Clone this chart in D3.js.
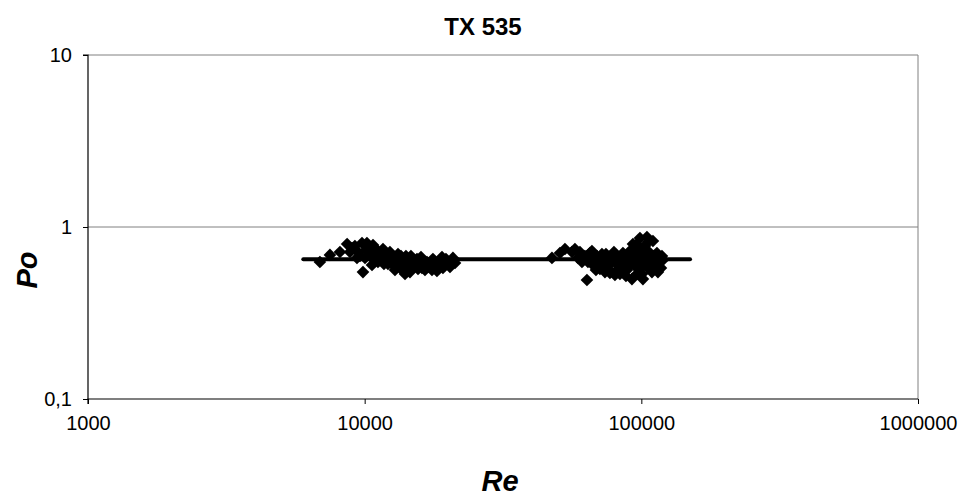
<!DOCTYPE html>
<html><head><meta charset="utf-8">
<script src="https://cdn.jsdelivr.net/npm/d3@7"></script>
<style>body{margin:0;background:#fff}svg{display:block}</style>
</head><body>
<svg id="c" width="960" height="497"></svg>
<script>
const title = "TX 535";
const xLabel = "Re", yLabel = "Po";
const xTicks = [1000, 10000, 100000, 1000000];
const xTickLabels = ["1000", "10000", "100000", "1000000"];
const yTicks = [0.1, 1, 10];
const yTickLabels = ["0,1", "1", "10"];
const fitRe = [6000, 150000];
const fitPo = [0.65, 0.65];
const re = [
  6890, 7490, 8140, 8640, 9000, 9220, 9460, 9780, 9860, 10190,
  10280, 10450, 10630, 10720, 11080, 11170, 11360, 11650, 11840, 12140,
  12340, 12550, 12870, 13200, 13420, 13640, 13990, 14100, 14340, 14580,
  14830, 15200, 15460, 15590, 15850, 16250, 16520, 16800, 17220, 17650,
  17950, 18250, 18720, 19030, 19510, 20000, 20340, 20850, 21210, 9620,
  10030, 10900, 12870, 14580, 16520,
  8850, 9380, 10110, 10805, 11550, 12040, 12660, 13086, 13755, 14220,
  14950, 15330, 16110, 16935, 17510, 18410, 19185, 19670, 20505, 15980,
  14700, 13530, 12450, 11740,
  47530, 50800, 52960, 56140, 57550, 59010, 61010, 63600, 65200, 66300,
  67980, 69700, 70870, 72060, 73880, 75750, 77020, 78970, 80290, 81640,
  83700, 85100, 85820, 87260, 88720, 90960, 92490, 93260, 94820, 95620,
  97210, 98840, 98840, 100500, 102190, 103040, 104770, 105650, 107420, 109220,
  110130, 111980, 113860, 114810, 116740, 117720, 118700, 119690, 68540, 73880, 77020,
  59990, 62540, 64130, 66860, 69120, 72650, 74500, 76380, 78310, 79620,
  82310, 84390, 86530, 87980, 89450, 90200, 91720, 94040, 96410, 96410,
  98020, 99670, 101340, 103900, 105650, 106540, 108310, 111050, 112920, 115770,
  101340, 80290, 73880
];
const po = [
  0.626, 0.688, 0.716, 0.796, 0.755, 0.775, 0.716, 0.807, 0.547, 0.807,
  0.735, 0.678, 0.601, 0.786, 0.735, 0.626, 0.688, 0.745, 0.661, 0.609,
  0.716, 0.661, 0.626, 0.697, 0.578, 0.652, 0.533, 0.678, 0.609, 0.643,
  0.578, 0.626, 0.652, 0.570, 0.609, 0.643, 0.585, 0.626, 0.609, 0.652,
  0.578, 0.555, 0.626, 0.669, 0.601, 0.626, 0.585, 0.661, 0.618, 0.678,
  0.661, 0.661, 0.562, 0.547, 0.562,
  0.716, 0.661, 0.735, 0.716, 0.661, 0.697, 0.601, 0.652, 0.609, 0.562,
  0.626, 0.593, 0.578, 0.585, 0.562, 0.601, 0.578, 0.652, 0.626, 0.669,
  0.678, 0.678, 0.643, 0.609,
  0.661, 0.706, 0.745, 0.716, 0.745, 0.661, 0.626, 0.492, 0.706, 0.725,
  0.661, 0.609, 0.570, 0.697, 0.643, 0.593, 0.669, 0.678, 0.626, 0.562,
  0.533, 0.661, 0.706, 0.601, 0.562, 0.635, 0.498, 0.796, 0.688, 0.585,
  0.735, 0.863, 0.643, 0.533, 0.678, 0.775, 0.875, 0.578, 0.661, 0.547,
  0.829, 0.643, 0.706, 0.547, 0.661, 0.578, 0.678, 0.643, 0.562, 0.547, 0.540,
  0.716, 0.678, 0.626, 0.601, 0.678, 0.618, 0.697, 0.562, 0.626, 0.716,
  0.661, 0.593, 0.643, 0.519, 0.697, 0.593, 0.735, 0.626, 0.796, 0.533,
  0.678, 0.578, 0.735, 0.626, 0.818, 0.716, 0.593, 0.678, 0.578, 0.626,
  0.498, 0.526, 0.578
];
const points = re.map((r, i) => ({re: r, po: po[i]}));

const svg = d3.select("#c");
const L = 88, R = 918, T = 55, B = 399;
const x = d3.scaleLog().domain([1000, 1000000]).range([L, R]);
const y = d3.scaleLog().domain([0.1, 10]).range([B, T]);
const font = "'Liberation Sans', Arial, sans-serif";

// gridlines
svg.append("g").selectAll("line").data(yTicks.filter(v => v > 0.1)).join("line")
  .attr("x1", L).attr("x2", R).attr("y1", d => y(d)).attr("y2", d => y(d))
  .attr("stroke", "#808080").attr("stroke-width", 1);
svg.append("line").attr("x1", R).attr("x2", R).attr("y1", T).attr("y2", B)
  .attr("stroke", "#808080").attr("stroke-width", 1);

// axes
const xAxis = d3.axisBottom(x).tickValues(xTicks).tickFormat((d, i) => xTickLabels[i]).tickSize(5).tickPadding(12);
const yAxis = d3.axisLeft(y).tickValues(yTicks).tickFormat((d, i) => yTickLabels[yTicks.indexOf(d)]).tickSize(5).tickPadding(11);
const gx = svg.append("g").attr("transform", `translate(0,${B})`).call(xAxis);
const gy = svg.append("g").attr("transform", `translate(${L},0)`).call(yAxis);
[gx, gy].forEach(g => {
  g.select(".domain").attr("stroke", "#000").attr("stroke-width", 1.2);
  g.selectAll(".tick line").attr("stroke", "#000");
  g.selectAll(".tick text").attr("font-family", font).attr("font-size", 20).attr("fill", "#000");
});
gy.select(".domain").attr("d", `M-5,${T}H0V${B}`);
gx.select(".domain").attr("d", `M${L},5V0H${R}`);

// points
const sym = d3.symbol().type(d3.symbolSquare).size(80);
svg.append("g").selectAll("path").data(points).join("path")
  .attr("d", sym)
  .attr("transform", d => `translate(${x(d.re)},${y(d.po)}) rotate(45)`)
  .attr("fill", "#000");

// fit line
const line = d3.line().x(d => x(d[0])).y(d => y(d[1]));
svg.append("path").datum(fitRe.map((r, i) => [r, fitPo[i]]))
  .attr("d", line).attr("stroke", "#000").attr("stroke-width", 4)
  .attr("stroke-linecap", "round").attr("fill", "none");

// titles
svg.append("text").attr("x", 483).attr("y", 35).attr("text-anchor", "middle")
  .attr("font-family", font).attr("font-weight", "bold").attr("font-size", 24).text(title);
svg.append("text").attr("x", 500).attr("y", 491).attr("text-anchor", "middle")
  .attr("font-family", font).attr("font-weight", "bold").attr("font-style", "italic").attr("font-size", 29).text(xLabel);
svg.append("text").attr("transform", "translate(37,270) rotate(-90)").attr("text-anchor", "middle")
  .attr("font-family", font).attr("font-weight", "bold").attr("font-style", "italic").attr("font-size", 29).text(yLabel);
</script>
</body></html>
